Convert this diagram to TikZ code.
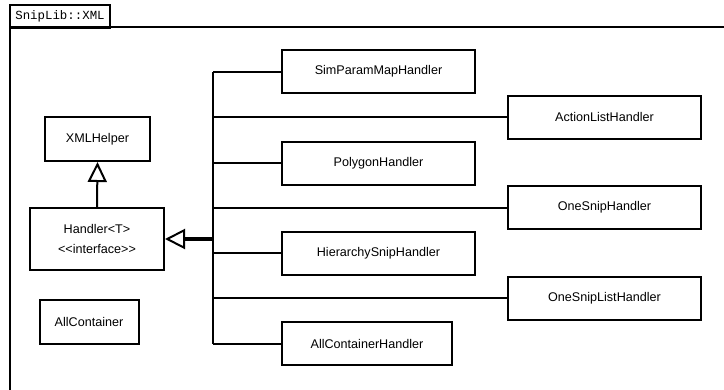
\documentclass[tikz,border=0pt]{standalone}
\usepackage{fontspec}
\setmainfont[Ligatures=NoCommon]{Liberation Sans}
\setmonofont{Liberation Mono}
\usetikzlibrary{arrows.meta}
\begin{document}
\begin{tikzpicture}[x=1pt,y=-1pt,
  cls/.style={draw,line width=2pt,rectangle,inner sep=0pt,
    font=\fontsize{12.6}{20}\selectfont,align=center},
  wide/.style={cls,minimum width=193pt,minimum height=43pt},
  conn/.style={line width=2pt},
  inherit/.style={line width=2pt,-{Triangle[open,length=20pt,width=19pt,line width=2pt]}},
  biginherit/.style={line width=4pt,-{Triangle[open,length=20pt,width=20pt,line width=2pt]}}]
\useasboundingbox (0,0) rectangle (724,389);
% package frame
\draw[line width=2pt] (10,400) -- (10,27) -- (740,27);
\node[draw,line width=2pt,anchor=north west,minimum width=100pt,minimum height=23pt,
  inner sep=2pt,font=\ttfamily\fontsize{12.4}{14}\selectfont] (tab) at (9,4) {SnipLib::XML};
% classes
\node[cls,minimum width=105pt,minimum height=44pt] (xml) at (97.5,139) {XMLHelper};
\node[cls,minimum width=134pt,minimum height=62pt] (handler) at (97,239) {Handler{<}T{>}\\{<}{<}interface{>}{>}};
\node[cls,minimum width=99pt,minimum height=44pt] (allc) at (89,322) {AllContainer};
\node[wide] (simp) at (378.5,71.5) {SimParamMapHandler};
\node[wide] (act) at (604.5,117) {ActionListHandler};
\node[wide] (poly) at (378.5,163) {PolygonHandler};
\node[wide] (one) at (604.5,207.5) {OneSnipHandler};
\node[wide] (hier) at (378.5,253) {HierarchySnipHandler};
\node[wide] (onel) at (604.5,298) {OneSnipListHandler};
\node[cls,minimum width=170pt,minimum height=43pt] (allh) at (367,343.5) {AllContainerHandler};
% bus
\coordinate (bus) at (213,0);
\draw[conn] (bus |- simp.west) -- (bus |- allh.west);
\foreach \n in {simp,act,poly,one,hier,onel,allh}
  \draw[conn] (bus |- \n.west) -- (\n.west);
\draw[biginherit] (bus |- handler.east) -- (handler.east);
\draw[inherit] (handler.north) -- (xml.south);
\end{tikzpicture}
\end{document}
